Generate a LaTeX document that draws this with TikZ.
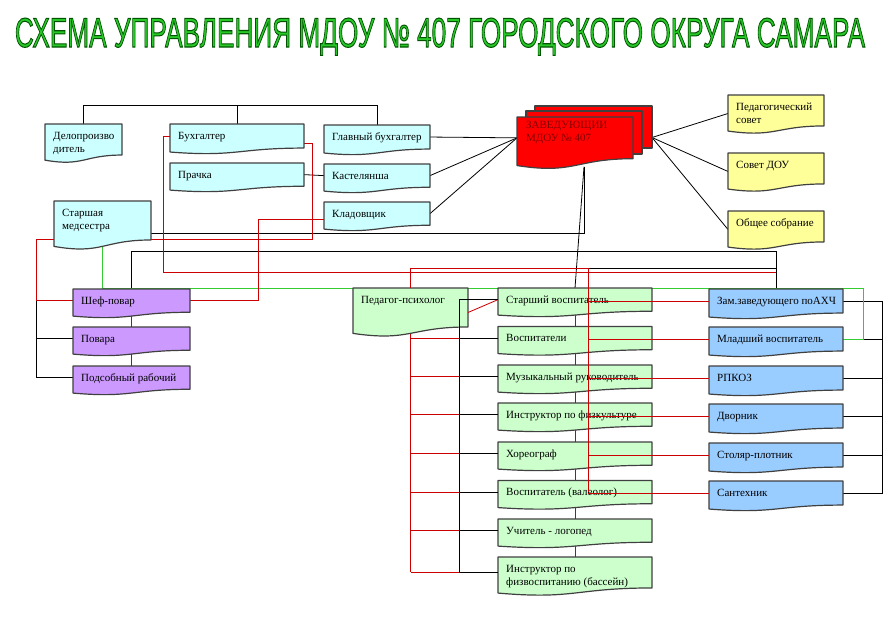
\documentclass[tikz,border=0pt]{standalone}
\usepackage{graphicx}
\usepackage{fontspec}
\setmainfont{Liberation Serif}
\newfontfamily\titlefont{Liberation Sans}
\usetikzlibrary{calc,backgrounds}
\pgfdeclarelayer{bg0}
\pgfsetlayers{bg0,background,main}
\definecolor{cyanbox}{RGB}{204,255,255}
\definecolor{yelbox}{RGB}{255,255,153}
\definecolor{redbox}{RGB}{255,0,0}
\definecolor{purbox}{RGB}{204,153,255}
\definecolor{grnbox}{RGB}{204,255,204}
\definecolor{blubox}{RGB}{153,204,255}
\definecolor{edgegrey}{RGB}{64,64,64}
\definecolor{redline}{RGB}{204,0,0}
\definecolor{grnline}{RGB}{51,204,51}
\definecolor{ttlfill}{RGB}{40,200,40}
\definecolor{zavtext}{RGB}{128,0,0}
\tikzset{
  boxedge/.style={draw=edgegrey, line width=1.2pt, line join=round},
  anchorbox/.style={anchor=north west, inner sep=0pt, outer sep=0pt},
  lbl/.style={anchor=base west, inner sep=0pt, font=\fontsize{11}{13}\selectfont},
  blk/.style={draw=black, line width=0.8pt},
  rln/.style={draw=redline, line width=0.8pt},
  gln/.style={draw=grnline, line width=0.8pt},
  ttl/.style={anchor=base, inner sep=0pt},
}
\newcommand\twol[2]{\vtop{\hbox{#1}\hbox{#2}}}
% #1 name, #2 x, #3 y (top), #4 width, #5 height, #6 fill
\newcommand\docshape[6]{%
  \path[boxedge, fill=#6] (#2,#3) -- ({#2+#4},#3) -- ({#2+#4},{#3+0.802*#5})
    .. controls ({#2+0.5*#4},{#3+0.802*#5}) and ({#2+0.5*#4},{#3+1.1075*#5}) .. (#2,{#3+0.934*#5}) -- cycle;
  \node[anchorbox, minimum width=#4pt, minimum height={0.802*#5pt}] (#1) at (#2,#3) {};
}
\newcommand\docbox[7]{%
  \docshape{#1}{#2}{#3}{#4}{#5}{#6}%
  \node[lbl] (#1-t) at ({#2+8},{#3+15}) {#7};
}
\newcommand\ttltext{\resizebox{850pt}{29pt}{\special{pdf:literal direct 2 Tr 0.25 w 0 0.33 0 RG}\titlefont СХЕМА УПРАВЛЕНИЯ МДОУ № 407 ГОРОДСКОГО ОКРУГА САМАРА\special{pdf:literal direct 0 Tr}}}
\begin{document}
\begin{tikzpicture}[x=1pt,y=-1pt]
\begin{pgfonlayer}{bg0}
  \fill[white] (0,0) rectangle (890,619);
\end{pgfonlayer}
\useasboundingbox (0,0) rectangle (890,619);

% title
\node[ttl, text=ttlfill] (title) at (440,47) {\ttltext};

% top-left group
\docbox{delo}{45}{124}{77}{38.7}{cyanbox}{\twol{Делопроизво}{дитель}}
\docbox{buh}{170}{124}{134}{30}{cyanbox}{Бухгалтер}
\docbox{prach}{170}{163}{134}{29}{cyanbox}{Прачка}
\docbox{glb}{324}{125}{106}{30}{cyanbox}{Главный бухгалтер}
\docbox{kast}{324}{164}{106}{29}{cyanbox}{Кастелянша}
\docbox{klad}{324}{202}{106}{29}{cyanbox}{Кладовщик}
\docbox{med}{54}{201}{97}{48.6}{cyanbox}{\twol{Старшая}{медсестра}}

% head
\path[boxedge, fill=redbox] (535,106) rectangle (652,148);
\node[anchorbox, minimum width=117pt, minimum height=42pt] (zav3) at (535,106) {};
\path[boxedge, fill=redbox] (526,111) rectangle (642,154);
\node[anchorbox, minimum width=116pt, minimum height=43pt] (zav2) at (526,111) {};
\docshape{zav}{517}{117}{116}{52}{redbox}
\node[lbl, text=zavtext] (zav-t) at (526,128.8) {\twol{ЗАВЕДУЮЩИИ}{МДОУ № 407}};

% councils
\docbox{ps}{728}{95}{96}{38.6}{yelbox}{\twol{Педагогический}{совет}}
\docbox{sd}{728}{153}{96}{38.6}{yelbox}{Совет ДОУ}
\docbox{os}{728}{211}{96}{38.6}{yelbox}{Общее собрание}

% kitchen
\docbox{shef}{73}{289}{117}{29}{purbox}{Шеф-повар}
\docbox{povar}{73}{327}{117}{29}{purbox}{Повара}
\docbox{podsob}{73}{366}{117}{29}{purbox}{Подсобный рабочий}

% pedagogues
\docbox{psy}{353}{288}{115}{48.6}{grnbox}{Педагог-психолог}
\docbox{starsh}{498}{288}{154}{29}{grnbox}{Старший воспитатель}
\docbox{vosp}{498}{326.5}{154}{29}{grnbox}{Воспитатели}
\docbox{muz}{498}{365}{154}{29}{grnbox}{Музыкальный руководитель}
\docbox{instf}{498}{403}{154}{29}{grnbox}{Инструктор по физкультуре}
\docbox{hor}{498}{442}{154}{29}{grnbox}{Хореограф}
\docbox{val}{498}{480.5}{154}{29}{grnbox}{Воспитатель (валеолог)}
\docbox{log}{498}{519}{154}{29}{grnbox}{Учитель - логопед}
\docbox{bass}{498}{557}{154}{38.6}{grnbox}{\twol{Инструктор по}{физвоспитанию (бассейн)}}

% maintenance
\docbox{zam}{709}{289}{134}{30}{blubox}{Зам.заведующего поАХЧ}
\docbox{mlad}{709}{327}{134}{30}{blubox}{Младший воспитатель}
\docbox{rpkoz}{709}{366}{134}{30}{blubox}{РПКОЗ}
\docbox{dvor}{709}{404}{134}{30}{blubox}{Дворник}
\docbox{stol}{709}{443}{134}{30}{blubox}{Столяр-плотник}
\docbox{sant}{709}{481}{134}{30}{blubox}{Сантехник}

% helper coordinates
\coordinate (zavR) at ($(zav3.south east)!0.25!(zav3.north east)$);
\coordinate (zavb) at ($(zav.south west)+(67,8)$);
\coordinate (bs) at ($(starsh.west)+(-39,0)$);
\coordinate (rs) at ($(psy.north)+(177.5,-20)$);

\begin{pgfonlayer}{background}
  % black connectors
  \draw[blk] (delo.north) -- ++(0,-19) -| (glb.north);
  \draw[blk] (buh.north) -- ++(0,-19);
  \draw[blk] (prach.east) -- (kast.west);
  \foreach \bx in {glb,kast,klad} \draw[blk] (\bx.east) -- (zav.west);
  \foreach \bx in {ps,sd,os} \draw[blk] (zavR) -- ($(\bx.west)+(0,3)$);
  \draw[blk] ($(med.east)+(0,12.5)$) -| (zavb);
  \draw[blk] (zavb) -- (starsh.north);
  \draw[blk] ($(zam.north)+(0,-21)$) -- ($(starsh.north)+(1.5,-20)$);
  \draw[blk] (shef.north) -- ++(0,-38) -| (zam.north);
  \draw[blk] (shef.west) -- ++(-37,0) |- (podsob.west);
  \draw[blk] (povar.west) -- ++(-37,0);
  \draw[blk] (zam.east) -- ++(39,0) |- (sant.east);
  \foreach \bx in {mlad,rpkoz,dvor,stol} \draw[blk] (\bx.east) -- ++(39,0);
  % green
  \draw[gln] (med.south) -- ++(0,48) -| ($(mlad.east)+(20,0)$) -- (mlad.east);
  % red connectors
  \draw[rln] (buh.west) -- ++(-7,0) |- ($(zam.north)+(0,-17)$);
  \draw[rln] ($(buh.east)+(0,7)$) -- ++(8,0) |- ($(med.south east)+(0,-1)$);
  \draw[rln] ($(med.south west)+(0,-1)$) -- ++(-18,0) |- (shef.west);
  \draw[rln] ($(klad.west)+(0,6)$) -- ++(-66,0) |- (shef.east);
  \draw[rln] (psy.south) -- (psy.south |- bass.west);
  \foreach \bx in {vosp,muz,instf,hor,val,log,bass}
    \draw[rln] (psy.south |- \bx.west) -- (\bx.west -| bs);
  \foreach \pa/\pb in {starsh/vosp,vosp/muz,muz/instf,instf/hor,hor/val,val/log,log/bass,shef/povar,povar/podsob}
    \draw[rln] (\pa.south) -- (\pb.north);
\end{pgfonlayer}

% connectors drawn over the boxes
\draw[rln] ($(psy.east)+(0,5)$) -- (starsh.west);
\draw[blk] (starsh.west) -- (bs) |- (bass.west);
\foreach \bx in {vosp,muz,instf,hor,val,log} \draw[blk] (\bx.west) -- (\bx.west -| bs);
\draw[rln] (psy.north) |- (rs) -- (rs |- val.west);
\foreach \bx in {zam,mlad,rpkoz,dvor,stol,sant} \draw[rln] (\bx.west) -- (\bx.west -| rs);
\end{tikzpicture}
\end{document}
